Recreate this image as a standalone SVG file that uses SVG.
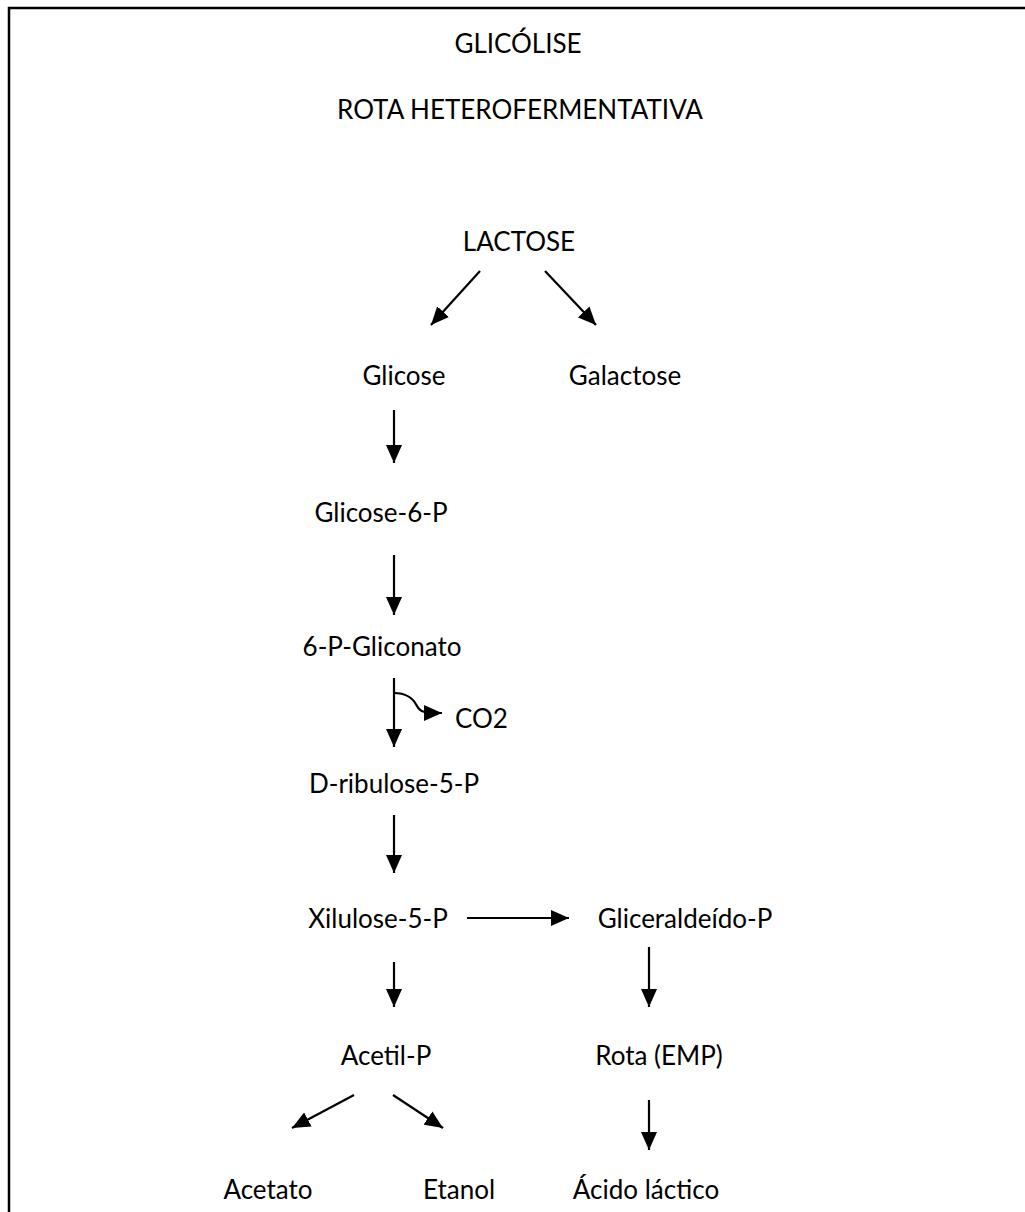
<svg xmlns="http://www.w3.org/2000/svg" width="1025" height="1212" viewBox="0 0 1025 1212">
<defs>
<style>
text{font-family:Lato,"Open Sans","Liberation Sans",sans-serif;font-size:26px;fill:#000}
.c{text-anchor:middle}
.ln{stroke:#000;stroke-width:2.2;fill:none;marker-end:url(#ah)}
</style>
<marker id="ah" markerUnits="userSpaceOnUse" markerWidth="18" markerHeight="16" refX="18" refY="8" orient="auto" viewBox="0 0 18 16">
<path d="M0,0 L18,8 L0,16 z" fill="#000"/>
</marker>
</defs>
<rect width="1025" height="1212" fill="#fff"/>
<path d="M1025,8 H9 V1212" fill="none" stroke="#000" stroke-width="2.5"/>
<g id="titles">
<text class="c" x="518" y="53">GLICÓLISE</text>
<text class="c" x="520" y="119">ROTA HETEROFERMENTATIVA</text>
</g>
<g id="n-lactose"><text class="c" x="519" y="251">LACTOSE</text></g>
<g id="n-glicose"><text class="c" x="404" y="385">Glicose</text></g>
<g id="n-galactose"><text class="c" x="625" y="385">Galactose</text></g>
<g id="n-glicose6p"><text class="c" x="381" y="522">Glicose-6-P</text></g>
<g id="n-gliconato"><text class="c" x="382" y="656">6-P-Gliconato</text></g>
<g id="n-co2"><text x="455" y="728">CO2</text></g>
<g id="n-ribulose"><text class="c" x="394" y="793">D-ribulose-5-P</text></g>
<g id="n-xilulose"><text class="c" x="378" y="928">Xilulose-5-P</text></g>
<g id="n-gliceraldeido"><text class="c" x="685" y="928">Gliceraldeído-P</text></g>
<g id="n-acetilp"><text class="c" x="386" y="1065">Acetil-P</text></g>
<g id="n-rota"><text class="c" x="659" y="1065">Rota (EMP)</text></g>
<g id="n-acetato"><text class="c" x="268" y="1199">Acetato</text></g>
<g id="n-etanol"><text class="c" x="459" y="1199">Etanol</text></g>
<g id="n-acido"><text class="c" x="646" y="1199">Ácido láctico</text></g>
<g id="connectors">
<line class="ln" x1="480" y1="271" x2="431" y2="325"/>
<line class="ln" x1="545" y1="271" x2="596" y2="325"/>
<line class="ln" x1="394" y1="410" x2="394" y2="463"/>
<line class="ln" x1="394" y1="555" x2="394" y2="615"/>
<line class="ln" x1="394" y1="678" x2="394" y2="747"/>
<path class="ln" d="M394,693 C408,693 414,700 417,706 C420,712 424,713 442,713"/>
<line class="ln" x1="394" y1="815" x2="394" y2="873"/>
<line class="ln" x1="467" y1="918" x2="569" y2="918"/>
<line class="ln" x1="394" y1="962" x2="394" y2="1007"/>
<line class="ln" x1="649" y1="947" x2="649" y2="1007"/>
<line class="ln" x1="354" y1="1095" x2="292" y2="1128"/>
<line class="ln" x1="393" y1="1095" x2="443" y2="1128"/>
<line class="ln" x1="649" y1="1100" x2="649" y2="1150"/>
</g>
</svg>
